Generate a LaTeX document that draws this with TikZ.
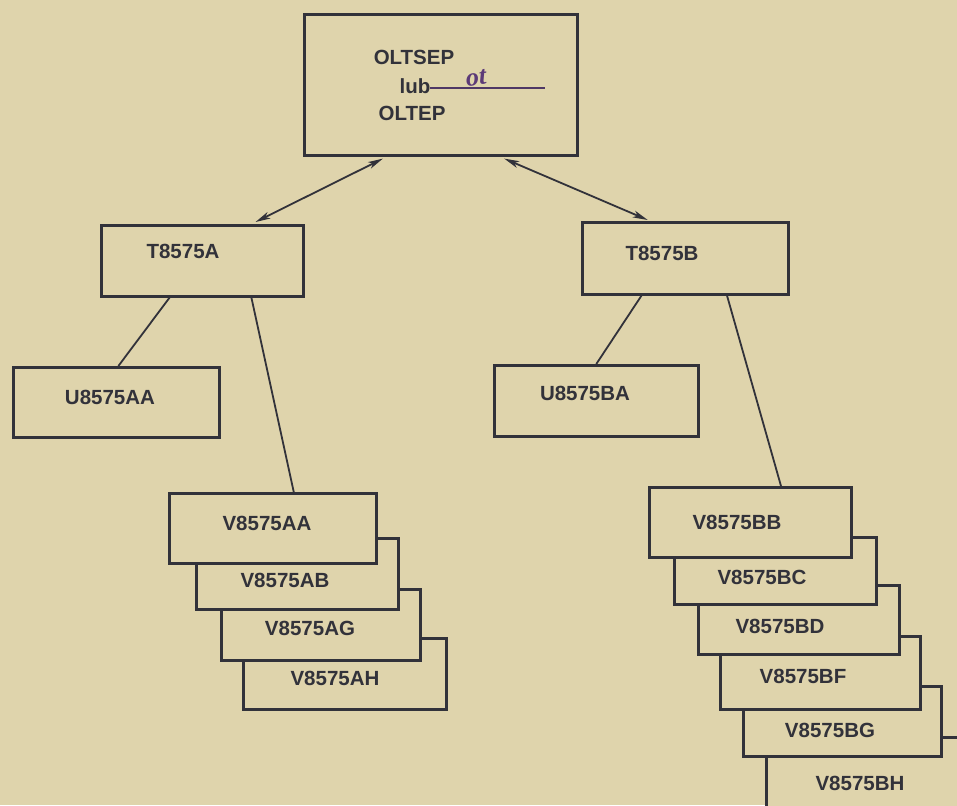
\documentclass[tikz,border=0pt]{standalone}
\usepackage{fontspec}
\newfontfamily\lblfont{Liberation Sans}
\newfontfamily\handfont{Liberation Serif}
\usetikzlibrary{arrows.meta,calc}
\definecolor{paper}{RGB}{223,212,172}
\definecolor{ink}{RGB}{50,50,58}
\definecolor{pen}{RGB}{92,58,120}
\begin{document}
\begin{tikzpicture}[x=1pt,y=-1pt,
  box/.style={draw=ink,line width=2.6pt,fill=paper,rectangle,inner sep=0pt,anchor=north west},
  lbl/.style={font=\lblfont\bfseries\fontsize{20.5}{24}\selectfont,text=ink,inner sep=0pt},
  conn/.style={draw=ink,line width=1.8pt},
  dbl/.style={draw=ink,line width=1.8pt,{Stealth[length=15pt,width=7pt,inset=4pt]}-{Stealth[length=15pt,width=7pt,inset=4pt]}}]
\fill[paper] (0,0) rectangle (957,805);
\useasboundingbox (0,0) rectangle (957,805);
\clip (0,0) rectangle (957,805);

% top box
\node[box,minimum width=273pt,minimum height=141pt] (top) at (303,13) {};
\node[lbl] (t1) at (414,57) {OLTSEP};
\node[lbl] (t2) at (415,86) {lub};
\node[lbl] (t3) at (412,113) {OLTEP};
\coordinate (ls) at (430,88);
\coordinate (le) at (545,88);
\draw[pen!70!ink,line width=1.6pt] (ls) -- (le);
\node[text=pen,font=\handfont\bfseries\itshape\fontsize{26}{28}\selectfont,inner sep=0pt,rotate=5] (hw) at (476,78) {ot};

% level 2
\node[box,minimum width=202pt,minimum height=71pt] (TA) at (100,224) {};
\node[lbl] (TAl) at (183,251) {T8575A};
\node[box,minimum width=206pt,minimum height=72pt] (TB) at (581,221) {};
\node[lbl] (TBl) at (662,253) {T8575B};

\draw[dbl] ($(top.south west)!0.29!(top.south east)+(0,2)$) -- ($(TA.north west)!0.76!(TA.north east)+(0,-2)$);
\draw[dbl] ($(top.south west)!0.73!(top.south east)+(0,2)$) -- ($(TB.north west)!0.32!(TB.north east)+(0,-1)$);

% U boxes
\node[box,minimum width=206pt,minimum height=70pt] (UA) at (12,366) {};
\node[lbl] (UAl) at (110,397) {U8575AA};
\node[box,minimum width=204pt,minimum height=71pt] (UB) at (493,364) {};
\node[lbl] (UBl) at (585,393) {U8575BA};

% left stack (drawn back to front)
\node[box,minimum width=203pt,minimum height=71pt] (AH) at (242,637) {};
\node[box,minimum width=199pt,minimum height=71pt] (AG) at (220,588) {};
\node[box,minimum width=202pt,minimum height=71pt] (AB) at (195,537) {};
\node[box,minimum width=207pt,minimum height=70pt] (AA) at (168,492) {};
\node[lbl] (AAl) at (267,523) {V8575AA};
\node[lbl] (ABl) at (285,580) {V8575AB};
\node[lbl] (AGl) at (310,628) {V8575AG};
\node[lbl] (AHl) at (335,678) {V8575AH};

% right stack (drawn back to front)
\node[box,minimum width=230pt,minimum height=100pt] (BH) at (765,736) {};
\node[box,minimum width=198pt,minimum height=70pt] (BG) at (742,685) {};
\node[box,minimum width=200pt,minimum height=73pt] (BF) at (719,635) {};
\node[box,minimum width=201pt,minimum height=69pt] (BD) at (697,584) {};
\node[box,minimum width=202pt,minimum height=67pt] (BC) at (673,536) {};
\node[box,minimum width=202pt,minimum height=70pt] (BB) at (648,486) {};
\node[lbl] (BBl) at (737,522) {V8575BB};
\node[lbl] (BCl) at (762,577) {V8575BC};
\node[lbl] (BDl) at (780,626) {V8575BD};
\node[lbl] (BFl) at (803,676) {V8575BF};
\node[lbl] (BGl) at (830,730) {V8575BG};
\node[lbl] (BHl) at (860,783) {V8575BH};

% connectors
\draw[conn] ($(TA.south west)!0.34!(TA.south east)$) -- ($(UA.north west)!0.51!(UA.north east)$);
\draw[conn] ($(TA.south west)!0.74!(TA.south east)$) -- ($(AA.north west)!0.60!(AA.north east)$);
\draw[conn] ($(TB.south west)!0.29!(TB.south east)$) -- ($(UB.north west)!0.50!(UB.north east)$);
\draw[conn] ($(TB.south west)!0.70!(TB.south east)$) -- ($(BB.north west)!0.65!(BB.north east)$);
\end{tikzpicture}
\end{document}
